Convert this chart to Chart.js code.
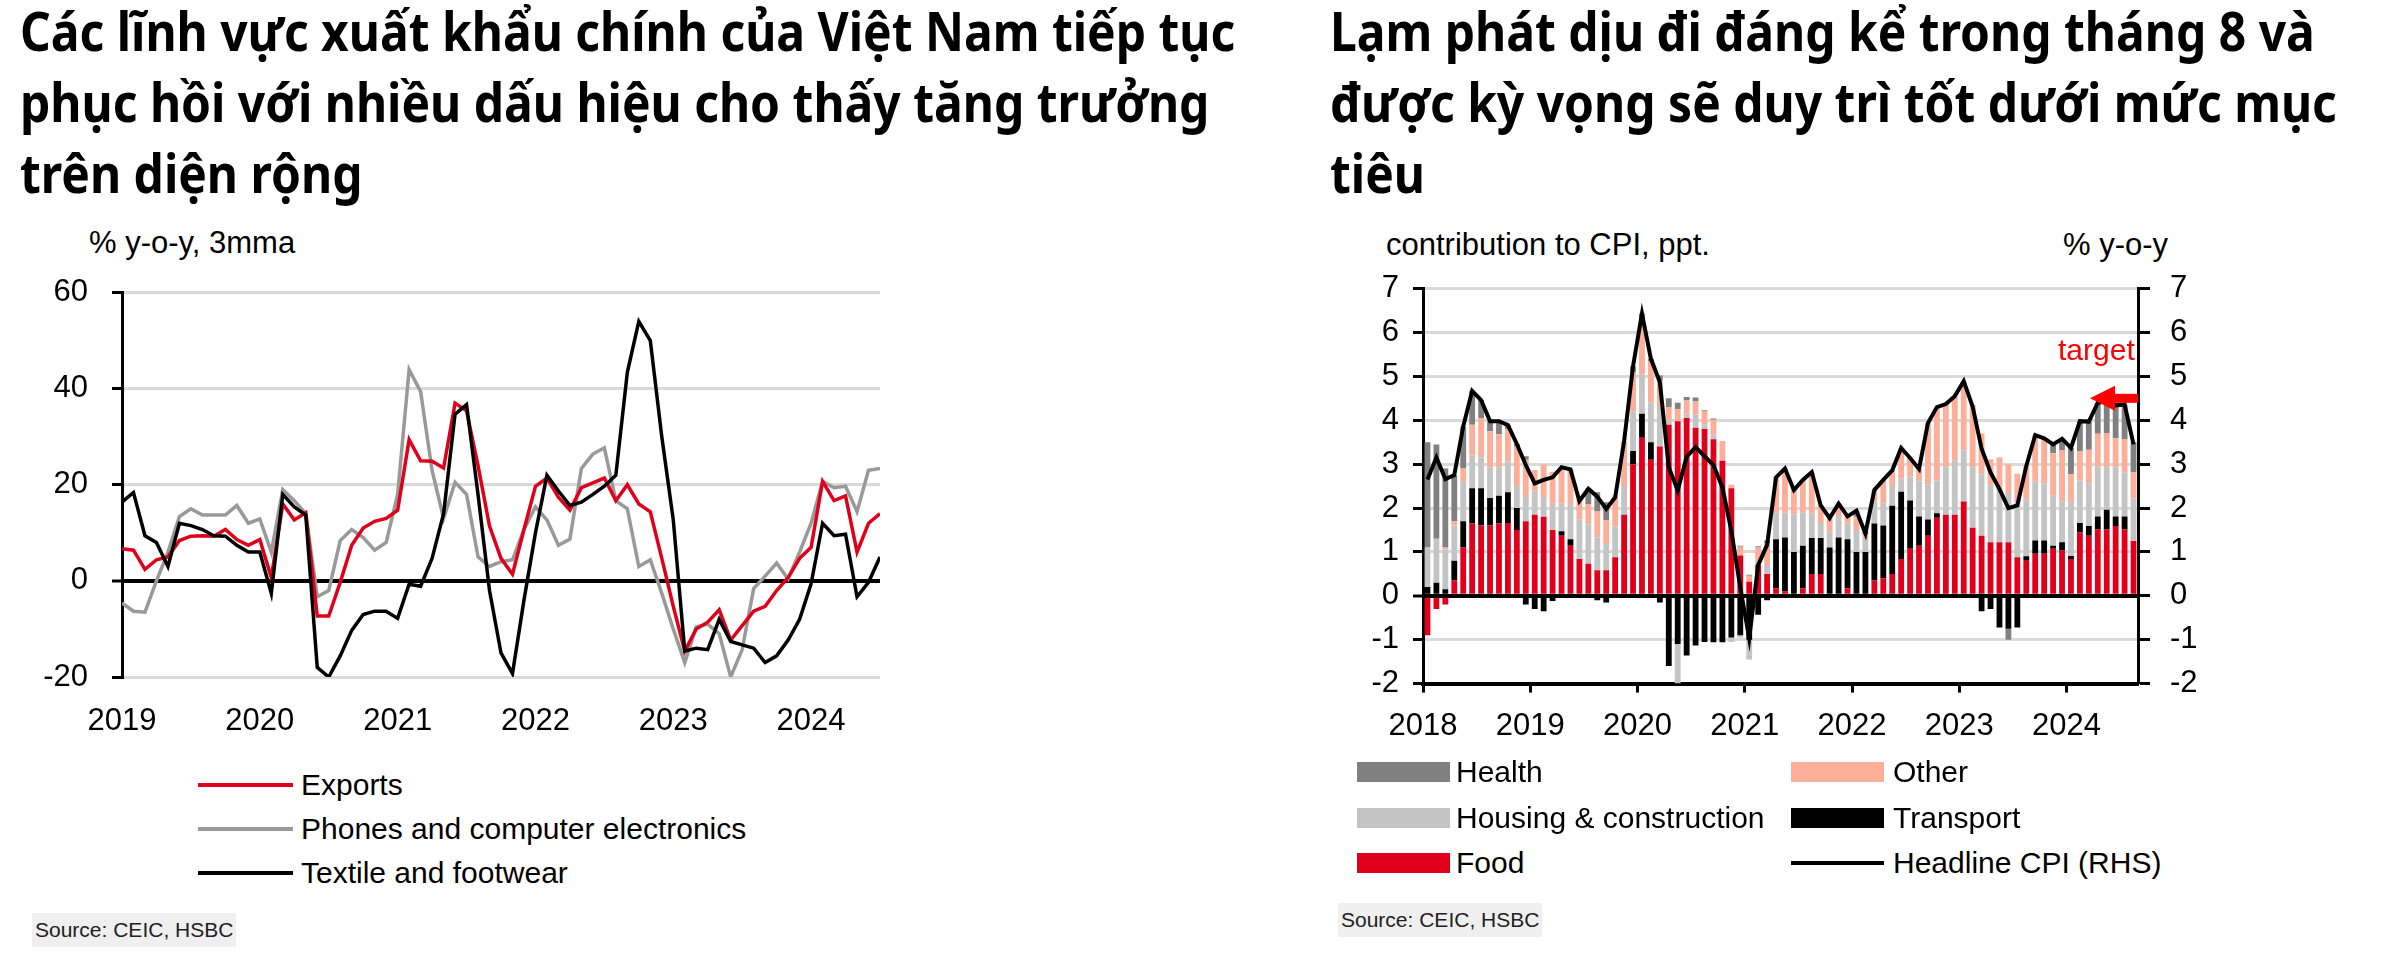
<!DOCTYPE html>
<html lang="vi">
<head>
<meta charset="utf-8">
<title>Vietnam exports and CPI</title>
<script src="https://cdn.jsdelivr.net/npm/chart.js@4.4.1/dist/chart.umd.min.js"></script>
<style>
  html, body { margin: 0; padding: 0; background: #fff; }
  #page { position: relative; width: 2381px; height: 957px; overflow: hidden; font-family: 'Liberation Sans', Arial, sans-serif; color: #000; }
  .title { position: absolute; top: -5px; font-family: 'Noto Sans', sans-serif; font-weight: 700; font-size: 53px; line-height: 71px; white-space: nowrap; transform-origin: 0 0; transform: scaleX(0.905); }
  .axis-title { position: absolute; font-size: 31px; line-height: 34px; white-space: nowrap; }
  canvas { position: absolute; }
  .lg { position: absolute; font-size: 30px; line-height: 34px; white-space: nowrap; }
  .sw-line { position: absolute; height: 4px; }
  .sw-box { position: absolute; height: 20px; }
  .source { position: absolute; background: #efefef; font-size: 21px; line-height: 26px; padding: 4px 3px; color: #222; white-space: nowrap; }
  .target { position: absolute; color: #ff0000; font-size: 30px; line-height: 34px; }
</style>
</head>
<body>
<div id="page">
  <div class="title" style="left:20px">Các lĩnh vực xuất khẩu chính của Việt Nam tiếp tục<br>phục hồi với nhiều dấu hiệu cho thấy tăng trưởng<br>trên diện rộng</div>
  <div class="title" style="left:1330px">Lạm phát dịu đi đáng kể trong tháng 8 và<br>được kỳ vọng sẽ duy trì tốt dưới mức mục<br>tiêu</div>

  <div class="axis-title" style="left:89px; top:226px">% y-o-y, 3mma</div>
  <div class="axis-title" style="left:1386px; top:228px">contribution to CPI, ppt.</div>
  <div class="axis-title" style="left:2063px; top:228px">% y-o-y</div>

  <canvas id="exportsChart" width="900" height="510" style="left:0; top:250px"></canvas>
  <canvas id="cpiChart" width="920" height="510" style="left:1300px; top:250px"></canvas>

  <div class="target" style="left:2058px; top:333px">target</div>

  <div class="sw-line" style="left:198px; top:783px; width:95px; background:#e0001b"></div>
  <div class="lg" style="left:301px; top:768px">Exports</div>
  <div class="sw-line" style="left:198px; top:827px; width:95px; background:#999"></div>
  <div class="lg" style="left:301px; top:812px">Phones and computer electronics</div>
  <div class="sw-line" style="left:198px; top:871px; width:95px; background:#000"></div>
  <div class="lg" style="left:301px; top:856px">Textile and footwear</div>

  <div class="sw-box" style="left:1357px; top:762px; width:93px; background:#808080"></div>
  <div class="lg" style="left:1456px; top:755px">Health</div>
  <div class="sw-box" style="left:1791px; top:762px; width:93px; background:#fcae98"></div>
  <div class="lg" style="left:1893px; top:755px">Other</div>
  <div class="sw-box" style="left:1357px; top:808px; width:93px; background:#c4c4c4"></div>
  <div class="lg" style="left:1456px; top:801px">Housing &amp; construction</div>
  <div class="sw-box" style="left:1791px; top:808px; width:93px; background:#000"></div>
  <div class="lg" style="left:1893px; top:801px">Transport</div>
  <div class="sw-box" style="left:1357px; top:853px; width:93px; background:#e0001b"></div>
  <div class="lg" style="left:1456px; top:846px">Food</div>
  <div class="sw-line" style="left:1791px; top:861px; width:93px; background:#000"></div>
  <div class="lg" style="left:1893px; top:846px">Headline CPI (RHS)</div>

  <div class="source" style="left:32px; top:913px">Source: CEIC, HSBC</div>
  <div class="source" style="left:1338px; top:903px">Source: CEIC, HSBC</div>
</div>

<script>
// left chart: main export sectors, % y-o-y 3mma, Jan 2019 - Jul 2024
const exportYears = ['2019', '2020', '2021', '2022', '2023', '2024'];
const exportMonths = [];
for (let y = 2019; y <= 2024; y++) for (let m = 1; m <= 12; m++) if (y < 2024 || m <= 7) exportMonths.push(y + '-' + String(m).padStart(2, '0'));

const totalExports = [6.7, 6.4, 2.4, 4.4, 5, 8.4, 9.3, 9.4, 9.3, 10.7, 8.6, 7.4,
  8.6, 0.7, 16, 12.7, 14.2, -7.3, -7.3, -0.3, 7.4, 11, 12.4, 13,
  14.7, 29.4, 25, 24.9, 23.5, 37, 35.4, 24, 11.4, 4.7, 1.4, 10.7,
  19.7, 21.4, 17.4, 14.7, 19.4, 20.4, 21.4, 16.7, 20, 16, 14.4, 4.7,
  -5.3, -14.6, -10, -8.6, -6, -12.3, -9.3, -6.3, -5.3, -2, 0.7, 4.7,
  7, 20.7, 16.7, 17.7, 6, 12, 14];
const phonesElectronics = [-4.6, -6.3, -6.5, 0, 6, 13.4, 15, 13.7, 13.7, 13.7, 15.7, 12,
  12.9, 6, 19, 16.7, 14, -3.3, -2, 8.4, 10.7, 9, 6.4, 8,
  18, 44, 39.4, 23, 13, 20.5, 18, 5, 3, 4, 4.4, 10.7,
  15.4, 12.7, 7.4, 8.7, 23.4, 26.4, 27.7, 16.7, 15, 3, 4.4, -2.6,
  -10, -17, -9.6, -9, -11, -20, -14.3, -1.6, 1, 3.7, 0.4, 6,
  12, 20.7, 19.4, 19.7, 14.4, 23, 23.4];
const textileFootwear = [16.4, 18.4, 9.4, 8, 3, 12, 11.5, 10.7, 9.4, 9.3, 7.4, 6,
  6, -2.6, 18, 15.4, 13.7, -18, -20, -15.6, -10.3, -7, -6.3, -6.3,
  -7.8, -0.7, -1.1, 4.7, 14, 34.7, 36.7, 18, -2, -15, -19.3, -4,
  10, 22, 18.7, 15.7, 16.4, 18, 19.7, 22, 43.4, 54, 50, 30,
  12.7, -14.6, -14, -14.3, -8, -12.6, -13.3, -14, -17, -15.6, -12.3, -8,
  -0.6, 12, 9.4, 9.7, -3.3, -0.3, 5];

// right chart: contribution to CPI (ppt) and headline CPI, Jan 2018 - Aug 2024
const cpiYears = ['2018', '2019', '2020', '2021', '2022', '2023', '2024'];
const cpiMonths = [];
for (let y = 2018; y <= 2024; y++) for (let m = 1; m <= 12; m++) if (y < 2024 || m <= 8) cpiMonths.push(y + '-' + String(m).padStart(2, '0'));

const food = [-0.9, -0.3, -0.2, 0.35, 1.1, 1.65, 1.6, 1.6, 1.65, 1.66, 1.5, 1.7,
  1.85, 1.8, 1.5, 1.37, 1.14, 0.84, 0.73, 0.58, 0.58, 0.88, 1.85, 3.0,
  3.6, 3.1, 3.4, 3.9, 3.98, 4.05, 3.83, 3.8, 3.57, 3.08, 2.45, 0.92,
  0.32, 0.7, 0.5, 0.17, 0.1, -0.05, 0.17, 0.5, 0.5, 0, 0, 0.17,
  0, -0.05, 0.35, 0.4, 0.5, 0.84, 1.07, 1.14, 1.37, 1.78, 1.85, 1.85,
  2.15, 1.55, 1.37, 1.22, 1.22, 1.22, 0.88, 0.8, 0.96, 0.96, 1.07, 1.03,
  0.84, 1.44, 1.37, 1.51, 1.51, 1.59, 1.51, 1.25];
const transport = [0.2, 0.3, 0.15, 0.45, 0.6, 0.8, 0.85, 0.63, 0.63, 0.7, 0.5, -0.2,
  -0.3, -0.35, -0.12, 0.1, 0.15, -0.05, 0, -0.1, -0.15, -0.05, 0, 0.3,
  0.55, 0.4, -0.15, -1.6, -1.1, -1.36, -1.13, -1.05, -1.06, -1.06, -0.95, -0.9,
  -1.0, -0.43, -0.1, 1.12, 1.23, 1.0, 0.97, 0.82, 0.82, 1.1, 1.33, 1.12,
  1.0, 1.0, 1.3, 1.2, 1.55, 1.53, 1.1, 0.67, 0.37, 0.1, 0, 0,
  0, -0.04, -0.35, -0.3, -0.72, -0.75, -0.72, 0.1, 0.3, 0.3, 0.07, 0.19,
  0.07, 0.22, 0.22, 0.3, 0.45, 0.22, 0.3, -0.05];
const housing = [0.9, 1.0, 0.9, 0.8, 0.9, 0.75, 0.7, 0.7, 0.65, 0.7, 0.5, 0.55,
  0.55, 0.45, 0.6, 0.63, 0.8, 0.9, 0.9, 0.75, 0.6, 0.7, 0.65, 0.9,
  0.9, 0.9, 0.9, 0.1, -0.9, 0.1, 0.3, 0.1, 0.1, 0, -0.1, -0.05,
  -0.45, 0.1, 0.2, 0.6, 0.57, 0.86, 0.75, 0.56, 0.34, 0.37, 0.49, 0.35,
  0.5, 0.3, 0.5, 0.5, 0.45, 0.3, 0.55, 0.8, 0.8, 0.75, 1.08, 1.23,
  1.16, 1.38, 1.4, 1.3, 1.2, 1.12, 1.23, 1.3, 1.34, 1.3, 1.14, 0.93,
  1.23, 0.97, 0.97, 1.12, 0.97, 1.12, 1.0, 0.97];
const other = [0, 0, 0.05, 0.1, 0.3, 0.7, 0.9, 0.82, 0.75, 0.73, 0.9, 0.85,
  0.45, 0.74, 0.72, 0.83, 0.79, 0.47, 0.46, 0.6, 0.55, 0.71, 1.02, 0.9,
  1.2, 0.95, 0.6, 0.3, 0.27, 0.3, 0.3, 0.3, 0.34, 0.45, 0.08, 0.2,
  0.14, 0.3, 0.5, 0.8, 1.0, 0.6, 0.75, 0.94, 0.4, 0.3, 0.28, 0.17,
  0.3, 0.1, 0.26, 0.54, 0.36, 0.7, 0.42, 0.28, 1.4, 1.67, 1.44, 1.47,
  1.58, 1.42, 0.93, 0.59, 0.73, 0.66, 0.67, 0.76, 1.06, 1.03, 0.97, 1.17,
  0.63, 0.67, 0.77, 0.76, 0.78, 0.66, 0.75, 0.6];
const health = [2.4, 2.15, 1.8, 1.05, 0.95, 0.77, 0.41, 0.23, 0.3, 0.1, 0.06, 0.08,
  0.01, 0, 0, 0, 0, 0, 0.35, 0.43, 0.4, 0, 0, 0.13,
  0.18, 0.05, 0.12, 0.2, 0.15, 0.08, 0.09, 0.03, 0.03, 0, 0, 0.02,
  0.02, 0.03, 0.06, 0.01, 0, 0, 0, 0, 0, 0, 0, 0,
  0.14, 0.07, 0, 0, 0, 0, 0, 0, 0, 0, 0, 0,
  0, 0, 0, 0, 0, -0.25, 0, 0, 0, 0, 0.2, 0.26,
  0.6, 0.68, 0.64, 0.71, 0.73, 0.75, 0.8, 0.68];
const headlineCpi = [2.65, 3.15, 2.66, 2.75, 3.86, 4.67, 4.46, 3.98, 3.98, 3.89, 3.46, 2.98,
  2.56, 2.64, 2.7, 2.93, 2.88, 2.16, 2.44, 2.26, 1.98, 2.24, 3.52, 5.23,
  6.43, 5.4, 4.87, 2.93, 2.4, 3.17, 3.39, 3.18, 2.98, 2.47, 1.48, 0.19,
  -0.97, 0.7, 1.16, 2.7, 2.9, 2.41, 2.64, 2.82, 2.06, 1.77, 2.1, 1.81,
  1.94, 1.42, 2.41, 2.64, 2.86, 3.37, 3.14, 2.89, 3.94, 4.3, 4.37, 4.55,
  4.89, 4.31, 3.35, 2.81, 2.43, 2.0, 2.06, 2.96, 3.66, 3.59, 3.45, 3.58,
  3.37, 3.98, 3.97, 4.4, 4.44, 4.34, 4.36, 3.45];
const inflationTarget = 4.5;

Chart.defaults.font.family = "'Liberation Sans', Arial, sans-serif";
Chart.defaults.font.size = 31;
Chart.defaults.color = '#000';

const gridColor = ctx => (ctx.tick && ctx.tick.value === 0 ? '#000' : '#d9d9d9');
const gridWidth = ctx => (ctx.tick && ctx.tick.value === 0 ? 4 : 3);

new Chart(document.getElementById('exportsChart'), {
  type: 'line',
  data: {
    labels: exportMonths.map((m, i) => i),
    datasets: [
      { label: 'Textile and footwear', data: textileFootwear, borderColor: '#000', order: 0 },
      { label: 'Exports', data: totalExports, borderColor: '#e0001b', order: 1 },
      { label: 'Phones and computer electronics', data: phonesElectronics, borderColor: '#999', order: 2 }
    ]
  },
  options: {
    responsive: false,
    animation: false,
    elements: { point: { radius: 0 }, line: { borderWidth: 3.5, tension: 0 } },
    layout: { autoPadding: false, padding: { top: 27, right: 20, left: 0, bottom: 0 } },
    plugins: { legend: { display: false }, tooltip: { enabled: false } },
    scales: {
      x: {
        type: 'linear', min: 0, max: exportMonths.length - 1,
        afterBuildTicks: s => { s.ticks = exportYears.map((y, i) => ({ value: i * 12 })); },
        ticks: { callback: v => exportYears[Math.round(v / 12)], padding: 26, maxRotation: 0, autoSkip: false },
        grid: { display: false, drawTicks: false },
        border: { display: false },
        afterFit: s => { s.height = 83; }
      },
      y: {
        min: -20, max: 60,
        ticks: { stepSize: 20, padding: 24 },
        grid: { color: gridColor, lineWidth: gridWidth, tickColor: '#000', tickLength: 10, tickWidth: 3 },
        border: { color: '#000', width: 3 },
        afterFit: s => { s.width = 122; }
      }
    }
  }
});

const targetArrow = {
  id: 'targetArrow',
  afterDatasetsDraw(chart) {
    const { ctx, chartArea, scales } = chart;
    const y = scales.y2.getPixelForValue(inflationTarget);
    const tip = chartArea.right - 48;
    ctx.save();
    ctx.fillStyle = '#ff0000';
    ctx.beginPath();
    ctx.moveTo(tip, y);
    ctx.lineTo(tip + 25, y - 12.5);
    ctx.lineTo(tip + 25, y + 12.5);
    ctx.closePath();
    ctx.fill();
    ctx.fillRect(tip + 24, y - 4.5, chartArea.right - tip - 24, 9);
    ctx.restore();
  }
};

const bar = (label, data, color) => ({ type: 'bar', label, data, backgroundColor: color, stack: 'cpi', order: 1 });

new Chart(document.getElementById('cpiChart'), {
  data: {
    labels: cpiMonths.map((m, i) => i + 0.5),
    datasets: [
      { type: 'line', label: 'Headline CPI (RHS)', data: headlineCpi, yAxisID: 'y2', borderColor: '#000', borderWidth: 4, pointRadius: 0, tension: 0, order: 0 },
      bar('Food', food, '#e0001b'),
      bar('Transport', transport, '#000'),
      bar('Housing & construction', housing, '#c4c4c4'),
      bar('Other', other, '#fcae98'),
      bar('Health', health, '#808080')
    ]
  },
  options: {
    responsive: false,
    animation: false,
    datasets: { bar: { barPercentage: 0.65, categoryPercentage: 1 } },
    layout: { autoPadding: false, padding: { top: 32, right: 0, left: 0, bottom: 0 } },
    plugins: { legend: { display: false }, tooltip: { enabled: false } },
    scales: {
      x: {
        type: 'linear', min: 0, max: cpiMonths.length, offset: false,
        afterBuildTicks: s => { s.ticks = cpiYears.map((y, i) => ({ value: i * 12 })); },
        ticks: { callback: v => cpiYears[Math.round(v / 12)], padding: 15, maxRotation: 0, autoSkip: false },
        grid: { offset: false, drawOnChartArea: false, tickLength: 9, tickWidth: 3, tickColor: '#000', color: '#000' },
        border: { color: '#000', width: 4 },
        afterFit: s => { s.height = 76.4; }
      },
      y: {
        stacked: true, min: -2, max: 7,
        ticks: { stepSize: 1, padding: 14 },
        grid: { color: gridColor, lineWidth: gridWidth, tickColor: '#000', tickLength: 10, tickWidth: 3 },
        border: { color: '#000', width: 3 },
        afterFit: s => { s.width = 123; }
      },
      y2: {
        position: 'right', min: -2, max: 7,
        ticks: { stepSize: 1, padding: 20 },
        grid: { drawOnChartArea: false, tickColor: '#000', tickLength: 12, tickWidth: 3 },
        border: { color: '#000', width: 3 },
        afterFit: s => { s.width = 82; }
      }
    }
  },
  plugins: [targetArrow]
});
</script>
</body>
</html>
